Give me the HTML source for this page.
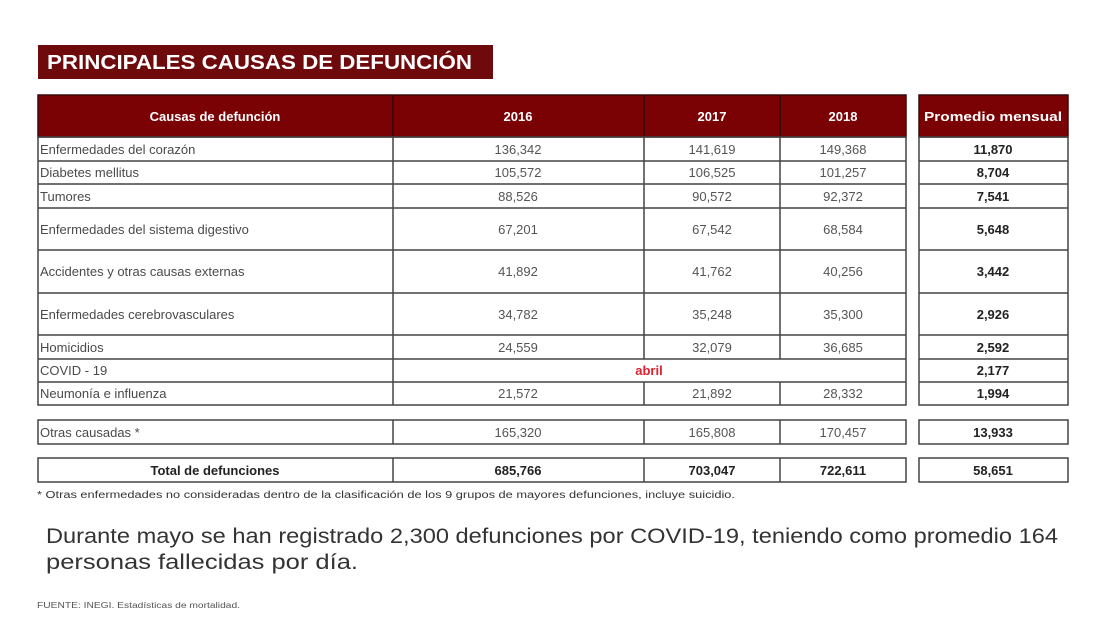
<!DOCTYPE html>
<html><head><meta charset="utf-8"><style>
html,body{margin:0;padding:0;background:#fff;width:1116px;height:620px;overflow:hidden}
svg text{font-family:"Liberation Sans",sans-serif}
</style></head><body>
<svg width="1116" height="620" viewBox="0 0 1116 620" xmlns="http://www.w3.org/2000/svg">
<rect x="0" y="0" width="1116" height="620" fill="#fff"/>
<!-- title -->
<rect x="38" y="45" width="455" height="34" fill="#6e0a0c"/>
<text x="47" y="69" font-size="20" font-weight="bold" fill="#fff" textLength="425" lengthAdjust="spacingAndGlyphs">PRINCIPALES CAUSAS DE DEFUNCIÓN</text>

<!-- header -->
<rect x="38" y="95" width="868" height="42" fill="#7a0205" stroke="#3a0a0a" stroke-width="1.5"/>
<rect x="919" y="95" width="149" height="42" fill="#7a0205" stroke="#3a0a0a" stroke-width="1.5"/>
<g stroke="#2a0a0a" stroke-width="1.5"><line x1="393" y1="95" x2="393" y2="137"/><line x1="644" y1="95" x2="644" y2="137"/><line x1="780" y1="95" x2="780" y2="137"/></g>
<g font-size="13" font-weight="bold" fill="#fff" text-anchor="middle">
<text x="215" y="121">Causas de defunción</text>
<text x="518" y="121">2016</text>
<text x="712" y="121">2017</text>
<text x="843" y="121">2018</text>
<text x="993" y="121" textLength="138" lengthAdjust="spacingAndGlyphs">Promedio mensual</text>
</g>

<!-- body grid -->
<g fill="none" stroke="#444" stroke-width="1.5">
<rect x="38" y="137" width="868" height="268"/>
<rect x="919" y="137" width="149" height="268"/>
<line x1="38" y1="161" x2="906" y2="161"/><line x1="919" y1="161" x2="1068" y2="161"/>
<line x1="38" y1="184" x2="906" y2="184"/><line x1="919" y1="184" x2="1068" y2="184"/>
<line x1="38" y1="208" x2="906" y2="208"/><line x1="919" y1="208" x2="1068" y2="208"/>
<line x1="38" y1="250" x2="906" y2="250"/><line x1="919" y1="250" x2="1068" y2="250"/>
<line x1="38" y1="293" x2="906" y2="293"/><line x1="919" y1="293" x2="1068" y2="293"/>
<line x1="38" y1="335" x2="906" y2="335"/><line x1="919" y1="335" x2="1068" y2="335"/>
<line x1="38" y1="359" x2="906" y2="359"/><line x1="919" y1="359" x2="1068" y2="359"/>
<line x1="38" y1="382" x2="906" y2="382"/><line x1="919" y1="382" x2="1068" y2="382"/>
<line x1="393" y1="137" x2="393" y2="405"/>
<line x1="644" y1="137" x2="644" y2="359"/><line x1="780" y1="137" x2="780" y2="359"/>
<line x1="644" y1="382" x2="644" y2="405"/><line x1="780" y1="382" x2="780" y2="405"/>
<rect x="38" y="420" width="868" height="24"/><rect x="919" y="420" width="149" height="24"/>
<line x1="393" y1="420" x2="393" y2="444"/><line x1="644" y1="420" x2="644" y2="444"/><line x1="780" y1="420" x2="780" y2="444"/>
<rect x="38" y="458" width="868" height="24"/><rect x="919" y="458" width="149" height="24"/>
<line x1="393" y1="458" x2="393" y2="482"/><line x1="644" y1="458" x2="644" y2="482"/><line x1="780" y1="458" x2="780" y2="482"/>
</g>

<g font-size="13" fill="#4a4a4a">
<text x="40" y="154">Enfermedades del corazón</text>
<text x="40" y="177">Diabetes mellitus</text>
<text x="40" y="201">Tumores</text>
<text x="40" y="234">Enfermedades del sistema digestivo</text>
<text x="40" y="276">Accidentes y otras causas externas</text>
<text x="40" y="319">Enfermedades cerebrovasculares</text>
<text x="40" y="352">Homicidios</text>
<text x="40" y="375">COVID - 19</text>
<text x="40" y="398">Neumonía e influenza</text>
<text x="40" y="437">Otras causadas *</text>
</g>
<g font-size="13" fill="#555" text-anchor="middle">
<text x="518" y="154">136,342</text><text x="712" y="154">141,619</text><text x="843" y="154">149,368</text>
<text x="518" y="177">105,572</text><text x="712" y="177">106,525</text><text x="843" y="177">101,257</text>
<text x="518" y="201">88,526</text><text x="712" y="201">90,572</text><text x="843" y="201">92,372</text>
<text x="518" y="234">67,201</text><text x="712" y="234">67,542</text><text x="843" y="234">68,584</text>
<text x="518" y="276">41,892</text><text x="712" y="276">41,762</text><text x="843" y="276">40,256</text>
<text x="518" y="319">34,782</text><text x="712" y="319">35,248</text><text x="843" y="319">35,300</text>
<text x="518" y="352">24,559</text><text x="712" y="352">32,079</text><text x="843" y="352">36,685</text>
<text x="518" y="398">21,572</text><text x="712" y="398">21,892</text><text x="843" y="398">28,332</text>
<text x="518" y="437">165,320</text><text x="712" y="437">165,808</text><text x="843" y="437">170,457</text>
</g>
<text x="649" y="375" font-size="13" font-weight="bold" fill="#e0202a" text-anchor="middle">abril</text>
<g font-size="13" font-weight="bold" fill="#222" text-anchor="middle">
<text x="993" y="154">11,870</text>
<text x="993" y="177">8,704</text>
<text x="993" y="201">7,541</text>
<text x="993" y="234">5,648</text>
<text x="993" y="276">3,442</text>
<text x="993" y="319">2,926</text>
<text x="993" y="352">2,592</text>
<text x="993" y="375">2,177</text>
<text x="993" y="398">1,994</text>
<text x="993" y="437">13,933</text>
<text x="215" y="475">Total de defunciones</text>
<text x="518" y="475">685,766</text>
<text x="712" y="475">703,047</text>
<text x="843" y="475">722,611</text>
<text x="993" y="475">58,651</text>
</g>

<text x="37" y="498" font-size="10" fill="#333" textLength="698" lengthAdjust="spacingAndGlyphs">* Otras enfermedades no consideradas dentro de la clasificación de los 9 grupos de mayores defunciones, incluye suicidio.</text>
<text x="46" y="543" font-size="21" fill="#333" textLength="1012" lengthAdjust="spacingAndGlyphs">Durante mayo se han registrado 2,300 defunciones por COVID-19, teniendo como promedio 164</text>
<text x="46" y="569" font-size="21" fill="#333" textLength="312" lengthAdjust="spacingAndGlyphs">personas fallecidas por día.</text>
<text x="37" y="608" font-size="8" fill="#555" textLength="203" lengthAdjust="spacingAndGlyphs">FUENTE: INEGI. Estadísticas de mortalidad.</text>
</svg>
</body></html>
